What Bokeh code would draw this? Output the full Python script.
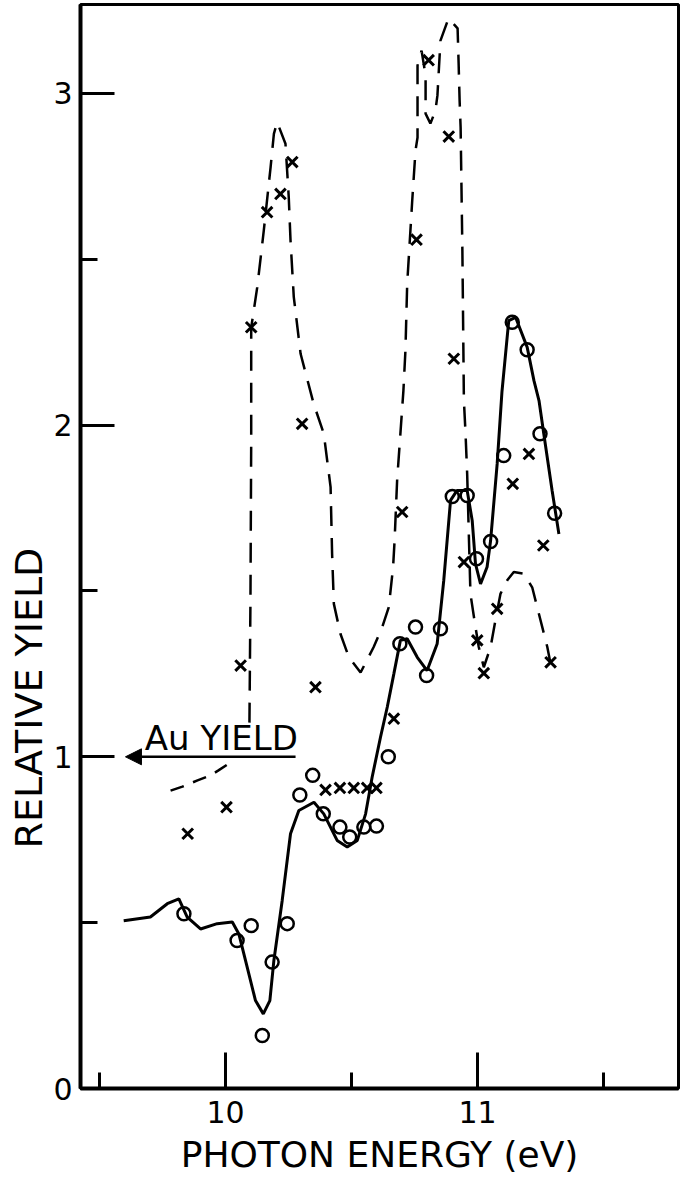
from bokeh.plotting import figure
from bokeh.models import Range1d, FixedTicker, Label, Arrow, NormalHead, Title
from bokeh.embed import file_html
from bokeh.resources import INLINE

# ---- data ----
circle_e = [9.835, 10.046, 10.102, 10.146, 10.185, 10.245, 10.295, 10.346, 10.388, 10.454,
            10.493, 10.549, 10.599, 10.646, 10.692, 10.754, 10.798, 10.853, 10.900, 10.959,
            10.996, 11.052, 11.104, 11.138, 11.197, 11.248, 11.306]
circle_y = [0.527, 0.446, 0.491, 0.160, 0.381, 0.497, 0.885, 0.944, 0.828, 0.788,
            0.758, 0.788, 0.791, 1.000, 1.341, 1.391, 1.245, 1.386, 1.785, 1.788,
            1.597, 1.649, 1.908, 2.310, 2.227, 1.974, 1.734]

cross_e = [9.850, 10.004, 10.060, 10.102, 10.165, 10.218, 10.265, 10.304, 10.357, 10.397,
           10.454, 10.509, 10.562, 10.599, 10.668, 10.701, 10.758, 10.806, 10.886, 10.906,
           10.946, 10.999, 11.025, 11.078, 11.140, 11.204, 11.261, 11.290]
cross_y = [0.768, 0.848, 1.275, 2.295, 2.642, 2.697, 2.793, 2.004, 1.210, 0.900,
           0.906, 0.906, 0.906, 0.906, 1.115, 1.738, 2.559, 3.100, 2.870, 2.200,
           1.587, 1.351, 1.252, 1.446, 1.823, 1.913, 1.637, 1.285]

solid_e = [9.596, 9.702, 9.769, 9.815, 9.848, 9.901, 9.967, 10.027, 10.053, 10.086,
           10.119, 10.150, 10.176, 10.192, 10.225, 10.258, 10.291, 10.351, 10.390, 10.443,
           10.483, 10.523, 10.556, 10.582, 10.615, 10.642, 10.668, 10.694, 10.721, 10.761,
           10.800, 10.840, 10.866, 10.893, 10.919, 10.959, 10.979, 10.992, 11.012, 11.038,
           11.052, 11.078, 11.097, 11.124, 11.151, 11.197, 11.224, 11.244, 11.263, 11.296,
           11.323]
solid_y = [0.506, 0.517, 0.557, 0.572, 0.517, 0.481, 0.497, 0.502, 0.466, 0.366,
           0.265, 0.225, 0.265, 0.386, 0.567, 0.768, 0.838, 0.863, 0.828, 0.748,
           0.728, 0.748, 0.828, 0.939, 1.059, 1.150, 1.250, 1.351, 1.356, 1.300,
           1.260, 1.341, 1.531, 1.773, 1.803, 1.803, 1.712, 1.582, 1.521, 1.572,
           1.652, 1.883, 2.100, 2.315, 2.325, 2.235, 2.134, 2.074, 1.974, 1.803,
           1.672]

dash_e = [10.095, 10.099, 10.102, 10.102, 10.126, 10.152, 10.179, 10.192, 10.205, 10.238,
          10.251, 10.258, 10.271, 10.298, 10.350, 10.390, 10.417, 10.423, 10.430, 10.456,
          10.489, 10.536, 10.588, 10.622, 10.648, 10.665, 10.671, 10.681, 10.694, 10.706,
          10.714, 10.721, 10.741, 10.754, 10.762, 10.762, 10.778, 10.794, 10.794, 10.813,
          10.833, 10.841, 10.853, 10.885, 10.921, 10.925, 10.929, 10.933, 10.940, 10.946,
          10.952, 10.959, 10.972, 10.992, 11.005, 11.025, 11.052, 11.071, 11.091, 11.118,
          11.144, 11.184, 11.217, 11.237, 11.257, 11.277, 11.290]
dash_y = [1.103, 1.471, 1.954, 2.294, 2.416, 2.587, 2.778, 2.878, 2.913, 2.848,
          2.687, 2.557, 2.386, 2.215, 2.064, 1.974, 1.813, 1.612, 1.461, 1.371,
          1.301, 1.254, 1.331, 1.391, 1.451, 1.572, 1.652, 1.833, 1.974, 2.104,
          2.225, 2.426, 2.677, 2.828, 2.867, 3.084, 3.129, 3.054, 2.939, 2.909,
          2.948, 2.994, 3.159, 3.226, 3.196, 3.093, 2.979, 2.897, 2.526, 2.074,
          1.984, 1.853, 1.491, 1.391, 1.331, 1.270, 1.331, 1.411, 1.491, 1.532,
          1.557, 1.552, 1.511, 1.451, 1.391, 1.331, 1.280]

au_e = [9.782, 9.829, 9.889, 9.940, 9.972, 10.020]
au_y = [0.898, 0.910, 0.929, 0.944, 0.959, 0.983]

x_major = [10, 11]
x_minor = [9.5, 10.5, 11.5]
y_major = [0, 1, 2, 3]
y_minor = [0.5, 1.5, 2.5]

FONT = "DejaVu Sans"

p = figure(frame_width=598, frame_height=1084,
           x_range=Range1d(9.4246, 11.7976), y_range=Range1d(0, 3.268),
           output_backend="svg", toolbar_location=None,
           min_border_left=80, min_border_right=2, min_border_top=4, min_border_bottom=100,
           background_fill_color="white", border_fill_color="white")
p.grid.visible = False
p.outline_line_color = "black"
p.outline_line_width = 3

for ax, maj, mino, tin, tmin in ((p.xaxis[0], x_major, x_minor, 36, 16),
                                  (p.yaxis[0], y_major, y_minor, 34, 17)):
    ax.ticker = FixedTicker(ticks=maj, minor_ticks=mino)
    ax.major_tick_in = tin
    ax.major_tick_out = 0
    ax.minor_tick_in = tmin
    ax.minor_tick_out = 0
    ax.major_tick_line_width = 3
    ax.minor_tick_line_width = 3
    ax.axis_line_width = 4
    ax.major_label_text_font = FONT
    ax.major_label_text_font_size = "30px"
    ax.major_label_text_color = "black"

p.xaxis.major_label_standoff = 12
p.yaxis.major_label_standoff = 8
p.xaxis.axis_label = "PHOTON ENERGY (eV)"
p.xaxis.axis_label_text_font = FONT
p.xaxis.axis_label_text_font_size = "36px"
p.xaxis.axis_label_text_font_style = "normal"
p.xaxis.axis_label_text_color = "black"
p.xaxis.axis_label_standoff = 8

# y-axis title as a left-side title, placed lower than centre as in the reference
p.add_layout(Title(text="RELATIVE YIELD", align="left", offset=240, standoff=0,
                   text_font=FONT, text_font_size="38px", text_font_style="normal",
                   text_color="black"), "left")

# curves
p.line(dash_e, dash_y, line_color="black", line_width=2.5, line_dash="20 12")
p.line(au_e, au_y, line_color="black", line_width=2.5, line_dash="14 10")
p.line(solid_e, solid_y, line_color="black", line_width=3)

# markers
p.scatter(circle_e, circle_y, marker="circle", size=13, fill_color=None,
          line_color="black", line_width=2.5)
p.scatter(cross_e, cross_y, marker="x", size=15, line_color="black", line_width=3)

# Au yield annotation
p.add_layout(Arrow(end=NormalHead(size=16, fill_color="black", line_color="black"),
                   x_start=10.278, y_start=1.0, x_end=9.603, y_end=1.0,
                   line_width=2.5, line_color="black"))
p.add_layout(Label(x=9.680, y=1.0, y_offset=-1, text="Au YIELD", text_align="left",
                   text_baseline="bottom", text_font=FONT, text_font_size="34px",
                   text_color="black"))

open("out.html", "w").write(file_html(p, INLINE))
